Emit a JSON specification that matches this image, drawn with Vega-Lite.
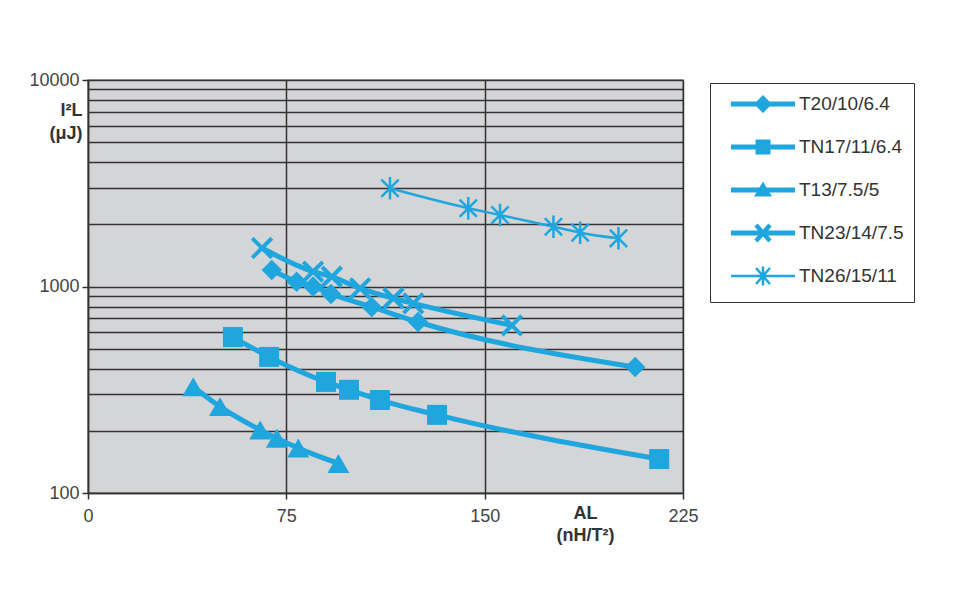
{
  "$schema": "https://vega.github.io/schema/vega-lite/v6.json",
  "width": 595,
  "height": 413,
  "autosize": {"type": "none"},
  "padding": {"left": 88, "top": 80, "right": 274, "bottom": 98},
  "background": "white",
  "config": {
    "font": "Liberation Sans",
    "view": {"fill": "#d4d5d7", "stroke": "#8c8c8c", "strokeWidth": 1.5}
  },
  "data": {
    "values": [
      {"series": "T20/10/6.4", "x": 69.5, "y": 1202},
      {"series": "T20/10/6.4", "x": 78.9, "y": 1055},
      {"series": "T20/10/6.4", "x": 85.1, "y": 1000},
      {"series": "T20/10/6.4", "x": 91.9, "y": 920},
      {"series": "T20/10/6.4", "x": 107.3, "y": 796},
      {"series": "T20/10/6.4", "x": 124.8, "y": 673},
      {"series": "T20/10/6.4", "x": 206.9, "y": 407},
      {"series": "TN17/11/6.4", "x": 54.8, "y": 569},
      {"series": "TN17/11/6.4", "x": 68.5, "y": 456},
      {"series": "TN17/11/6.4", "x": 90.0, "y": 345},
      {"series": "TN17/11/6.4", "x": 98.7, "y": 316},
      {"series": "TN17/11/6.4", "x": 110.4, "y": 282},
      {"series": "TN17/11/6.4", "x": 132.0, "y": 239},
      {"series": "TN17/11/6.4", "x": 216.0, "y": 146},
      {"series": "T13/7.5/5", "x": 39.8, "y": 327},
      {"series": "T13/7.5/5", "x": 49.9, "y": 262},
      {"series": "T13/7.5/5", "x": 65.1, "y": 202},
      {"series": "T13/7.5/5", "x": 71.4, "y": 184},
      {"series": "T13/7.5/5", "x": 79.5, "y": 165},
      {"series": "T13/7.5/5", "x": 94.7, "y": 139},
      {"series": "TN23/14/7.5", "x": 65.8, "y": 1536},
      {"series": "TN23/14/7.5", "x": 85.1, "y": 1180},
      {"series": "TN23/14/7.5", "x": 92.2, "y": 1115},
      {"series": "TN23/14/7.5", "x": 102.9, "y": 980},
      {"series": "TN23/14/7.5", "x": 115.5, "y": 877},
      {"series": "TN23/14/7.5", "x": 123.0, "y": 829},
      {"series": "TN23/14/7.5", "x": 160.3, "y": 648},
      {"series": "TN26/15/11", "x": 114.2, "y": 2989},
      {"series": "TN26/15/11", "x": 143.8, "y": 2393},
      {"series": "TN26/15/11", "x": 155.8, "y": 2220},
      {"series": "TN26/15/11", "x": 176.0, "y": 1948},
      {"series": "TN26/15/11", "x": 186.1, "y": 1823},
      {"series": "TN26/15/11", "x": 200.6, "y": 1711}
    ]
  },
  "encoding": {
    "x": {
      "field": "x",
      "type": "quantitative",
      "scale": {"domain": [0, 225], "nice": false},
      "axis": {
        "values": [0, 75, 150, 225],
        "grid": true,
        "gridColor": "#333333",
        "gridWidth": 1.5,
        "tickSize": 6,
        "tickColor": "#333333",
        "tickWidth": 1.5,
        "domainColor": "#333333",
        "domainWidth": 1.5,
        "labelFlush": false,
        "labelOverlap": false,
        "labelFontSize": 18,
        "labelColor": "#444444",
        "labelPadding": 8,
        "title": ["AL", "(nH/T²)"],
        "titleX": 497,
        "titleY": 25,
        "titleAlign": "center",
        "titleBaseline": "alphabetic",
        "titleFontSize": 18,
        "titleFontWeight": "bold",
        "titleColor": "#333333",
        "titleLineHeight": 22
      }
    },
    "y": {
      "field": "y",
      "type": "quantitative",
      "scale": {"type": "log", "domain": [100, 10000], "nice": false},
      "axis": {
        "values": [100, 200, 300, 400, 500, 600, 700, 800, 900, 1000, 2000, 3000, 4000, 5000, 6000, 7000, 8000, 9000, 10000],
        "format": "d",
        "labelExpr": "datum.value == 100 || datum.value == 1000 || datum.value == 10000 ? datum.label : ''",
        "grid": true,
        "gridColor": "#333333",
        "gridWidth": 1.5,
        "tickSize": 6,
        "tickColor": "#333333",
        "tickWidth": 1.5,
        "tickOpacity": {"condition": {"test": "datum.value == 100 || datum.value == 1000 || datum.value == 10000", "value": 1}, "value": 0},
        "domainColor": "#333333",
        "domainWidth": 1.5,
        "labelOverlap": false,
        "labelFontSize": 18,
        "labelColor": "#444444",
        "labelPadding": 3,
        "title": ["I²L", "(μJ)"],
        "titleAngle": 0,
        "titleAlign": "right",
        "titleBaseline": "alphabetic",
        "titleX": -6,
        "titleY": 35,
        "titleFontSize": 18,
        "titleFontWeight": "bold",
        "titleColor": "#333333",
        "titleLineHeight": 23
      }
    }
  },
  "layer": [
    {
      "mark": {"type": "line", "interpolate": "monotone", "color": "#1fa6df"},
      "encoding": {
        "detail": {"field": "series"},
        "strokeWidth": {"condition": {"test": "datum.series === 'TN26/15/11'", "value": 2.5}, "value": 5}
      }
    },
    {
      "transform": [{"filter": "datum.series === 'T20/10/6.4'"}],
      "mark": {"type": "point", "shape": "diamond", "filled": true, "color": "#1fa6df", "opacity": 1, "size": 420}
    },
    {
      "transform": [{"filter": "datum.series === 'TN17/11/6.4'"}],
      "mark": {"type": "point", "shape": "square", "filled": true, "color": "#1fa6df", "opacity": 1, "size": 400}
    },
    {
      "transform": [{"filter": "datum.series === 'T13/7.5/5'"}],
      "mark": {"type": "point", "shape": "triangle-up", "filled": true, "color": "#1fa6df", "opacity": 1, "size": 480}
    },
    {
      "transform": [{"filter": "datum.series === 'TN23/14/7.5'"}],
      "mark": {"type": "point", "shape": "M-1,-1L1,1M-1,1L1,-1", "filled": false, "color": "#1fa6df", "opacity": 1, "size": 380, "strokeWidth": 4}
    },
    {
      "transform": [{"filter": "datum.series === 'TN26/15/11'"}],
      "mark": {"type": "point", "shape": "M-1,-1L1,1M-1,1L1,-1M0,-1.3L0,1.3", "filled": false, "color": "#1fa6df", "opacity": 1, "size": 300, "strokeWidth": 2.5}
    },
    {
      "transform": [{"filter": "false"}],
      "mark": {"type": "point", "filled": true, "color": "#1fa6df"},
      "encoding": {
        "shape": {
          "field": "series",
          "type": "nominal",
          "scale": {
            "type": "ordinal",
            "domain": ["T20/10/6.4", "TN17/11/6.4", "T13/7.5/5", "TN23/14/7.5", "TN26/15/11"],
            "range": [
              "M0,-1.3L0,-1.3Z M0,1.3L0,1.3Z M-3.2,-0.25H3.2V0.25H-3.2Z M0,-0.9L0.9,0L0,0.9L-0.9,0Z",
              "M0,-1.3L0,-1.3Z M0,1.3L0,1.3Z M-3.2,-0.25H3.2V0.25H-3.2Z M-0.75,-0.75H0.75V0.75H-0.75Z",
              "M0,-1.3L0,-1.3Z M0,1.3L0,1.3Z M-3.2,-0.25H3.2V0.25H-3.2Z M0,-0.85L0.9,0.65H-0.9Z",
              "M0,-1.3L0,-1.3Z M0,1.3L0,1.3Z M-3.2,-0.25H3.2V0.25H-3.2Z M-0.534,-0.945L0.866,0.655L0.534,0.945L-0.866,-0.655Z M-0.866,0.655L0.534,-0.945L0.866,-0.655L-0.534,0.945Z",
              "M0,-1.3L0,-1.3Z M0,1.3L0,1.3Z M-3.2,-0.125H3.2V0.125H-3.2Z M-0.606,-0.882L0.794,0.718L0.606,0.882L-0.794,-0.718Z M-0.794,0.718L0.606,-0.882L0.794,-0.718L-0.606,0.882Z M-0.125,-0.95H0.125V0.95H-0.125Z"
            ]
          },
          "legend": {
            "orient": "none",
            "legendX": 622,
            "legendY": 3,
            "title": null,
            "padding": 10,
            "strokeColor": "#333333",
            "fillColor": "white",
            "symbolSize": 400,
            "symbolOffset": 32,
            "labelOffset": 25,
            "rowPadding": 11,
            "labelFontSize": 19,
            "labelColor": "#333333",
            "labelFont": "Liberation Sans",
            "symbolOpacity": 1,
            "symbolFillColor": "#1fa6df",
            "symbolStrokeColor": "#1fa6df"
          }
        }
      }
    }
  ]
}
